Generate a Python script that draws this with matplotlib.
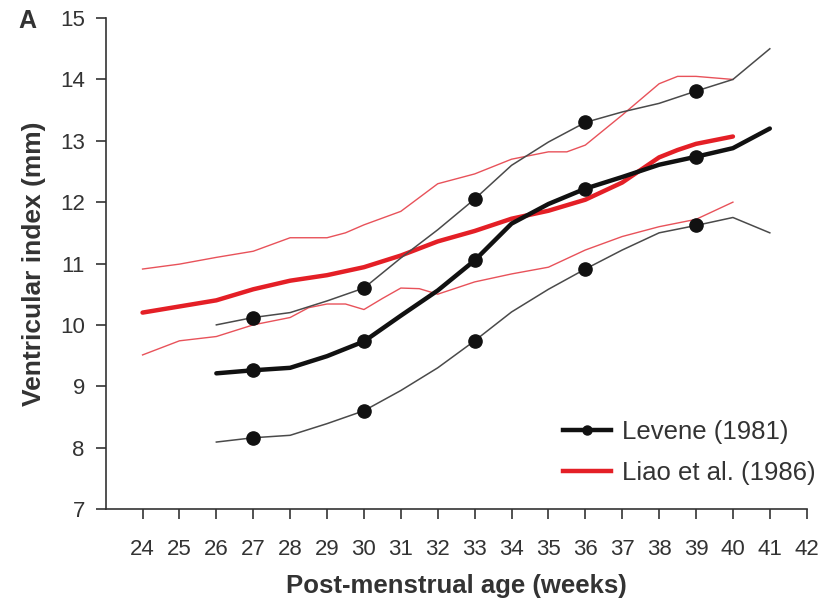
import matplotlib
matplotlib.use("Agg")
import matplotlib.pyplot as plt
from matplotlib.lines import Line2D

plt.rcParams['font.family'] = ['Liberation Sans', 'DejaVu Sans']

# Levene (1981): mean and +/- bands, one value per week
levene_weeks = [26, 27, 28, 29, 30, 31, 32, 33, 34, 35, 36, 37, 38, 39, 40, 41]
levene_mean = [9.21, 9.26, 9.30, 9.49, 9.73, 10.15, 10.56, 11.05, 11.65, 11.97,
               12.22, 12.41, 12.61, 12.74, 12.88, 13.20]
levene_upper = [10.00, 10.12, 10.20, 10.39, 10.60, 11.09, 11.55, 12.05, 12.60, 12.98,
                13.30, 13.47, 13.61, 13.81, 14.00, 14.50]
levene_lower = [8.09, 8.16, 8.20, 8.39, 8.60, 8.93, 9.30, 9.74, 10.21, 10.58,
                10.91, 11.22, 11.50, 11.62, 11.75, 11.50]
levene_marked_weeks = [27, 30, 33, 36, 39]

# Liao et al. (1986): mean and percentile curves
liao_mean_weeks = [24, 25, 26, 27, 28, 29, 30, 31, 32, 33, 34, 35, 36, 37, 38, 38.5, 39, 40]
liao_mean = [10.20, 10.30, 10.40, 10.58, 10.72, 10.81, 10.94, 11.13, 11.36, 11.53,
             11.73, 11.86, 12.04, 12.32, 12.73, 12.85, 12.95, 13.07]

liao_upper_weeks = [24, 25, 26, 27, 28, 29, 29.5, 30, 31, 32, 33, 34, 35, 35.5, 36,
                    37, 38, 38.5, 39, 40]
liao_upper = [10.91, 10.99, 11.10, 11.20, 11.42, 11.42, 11.50, 11.63, 11.85, 12.30,
              12.46, 12.70, 12.82, 12.82, 12.93, 13.42, 13.93, 14.05, 14.05, 14.00]

liao_lower_weeks = [24, 25, 26, 27, 28, 28.5, 29, 29.5, 30, 30.5, 31, 31.5, 32, 32.5,
                    33, 34, 35, 36, 37, 38, 39, 40]
liao_lower = [9.51, 9.74, 9.81, 10.00, 10.12, 10.28, 10.34, 10.34, 10.25, 10.43,
              10.60, 10.59, 10.50, 10.60, 10.70, 10.83, 10.94, 11.22, 11.44, 11.60,
              11.72, 12.00]

x_ticks = list(range(24, 43))
y_ticks = list(range(7, 16))

RED = '#e41f26'
RED_THIN = '#e8525a'
BLACK = '#111111'
GREY = '#4a4a4a'
TEXT = '#333333'

fig = plt.figure(figsize=(8.19, 6.03), dpi=100)
ax = fig.add_axes([0.129, 0.156, 0.856, 0.814])

mark_idx = [levene_weeks.index(w) for w in levene_marked_weeks]

# Liao curves
ax.plot(liao_upper_weeks, liao_upper, color=RED_THIN, lw=1.0, zorder=2)
ax.plot(liao_lower_weeks, liao_lower, color=RED_THIN, lw=1.0, zorder=2)
ax.plot(liao_mean_weeks, liao_mean, color=RED, lw=3.2, solid_capstyle='round', zorder=3)

# Levene curves
ax.plot(levene_weeks, levene_upper, color=GREY, lw=1.1, marker='o', ms=9.5,
        markevery=mark_idx, mfc=BLACK, mec=BLACK, zorder=4)
ax.plot(levene_weeks, levene_lower, color=GREY, lw=1.1, marker='o', ms=9.5,
        markevery=mark_idx, mfc=BLACK, mec=BLACK, zorder=4)
ax.plot(levene_weeks, levene_mean, color=BLACK, lw=3.2, marker='o', ms=9.5,
        markevery=mark_idx, solid_capstyle='round', zorder=5)

ax.set_xlim(23, 42)
ax.set_ylim(7, 15)
ax.set_xticks(x_ticks)
ax.set_yticks(y_ticks)
ax.set_xticklabels([str(v) for v in x_ticks])
ax.set_yticklabels([str(v) for v in y_ticks])

for side in ('top', 'right'):
    ax.spines[side].set_visible(False)
for side in ('left', 'bottom'):
    ax.spines[side].set_color('#333333')
    ax.spines[side].set_linewidth(1.2)

ax.tick_params(axis='x', direction='out', length=7, width=1.2, colors='#333333',
               labelcolor=TEXT, labelsize=16, pad=15)
ax.tick_params(axis='y', direction='out', length=7, width=1.2, colors='#333333',
               labelcolor=TEXT, labelsize=16, pad=8)

ax.set_xlabel('Post-menstrual age (weeks)', fontsize=18.5, fontweight='bold',
              color=TEXT, labelpad=10)
ax.set_ylabel('Ventricular index (mm)', fontsize=19, fontweight='bold',
              color=TEXT, labelpad=10)

fig.text(0.022, 0.965, 'A', fontsize=18, fontweight='bold', color=TEXT,
         ha='left', va='center')

handles = [
    Line2D([], [], color=BLACK, lw=3.2, marker='o', ms=6.5),
    Line2D([], [], color=RED, lw=3.2),
]
ax.legend(handles, ['Levene (1981)', 'Liao et al. (1986)'], loc='lower right',
          bbox_to_anchor=(1.046, 0.002), frameon=False, fontsize=18.5, numpoints=1,
          handlelength=1.85, handletextpad=0.45, labelspacing=0.64, labelcolor=TEXT)

fig.savefig('out.png', dpi=100, facecolor='white')
